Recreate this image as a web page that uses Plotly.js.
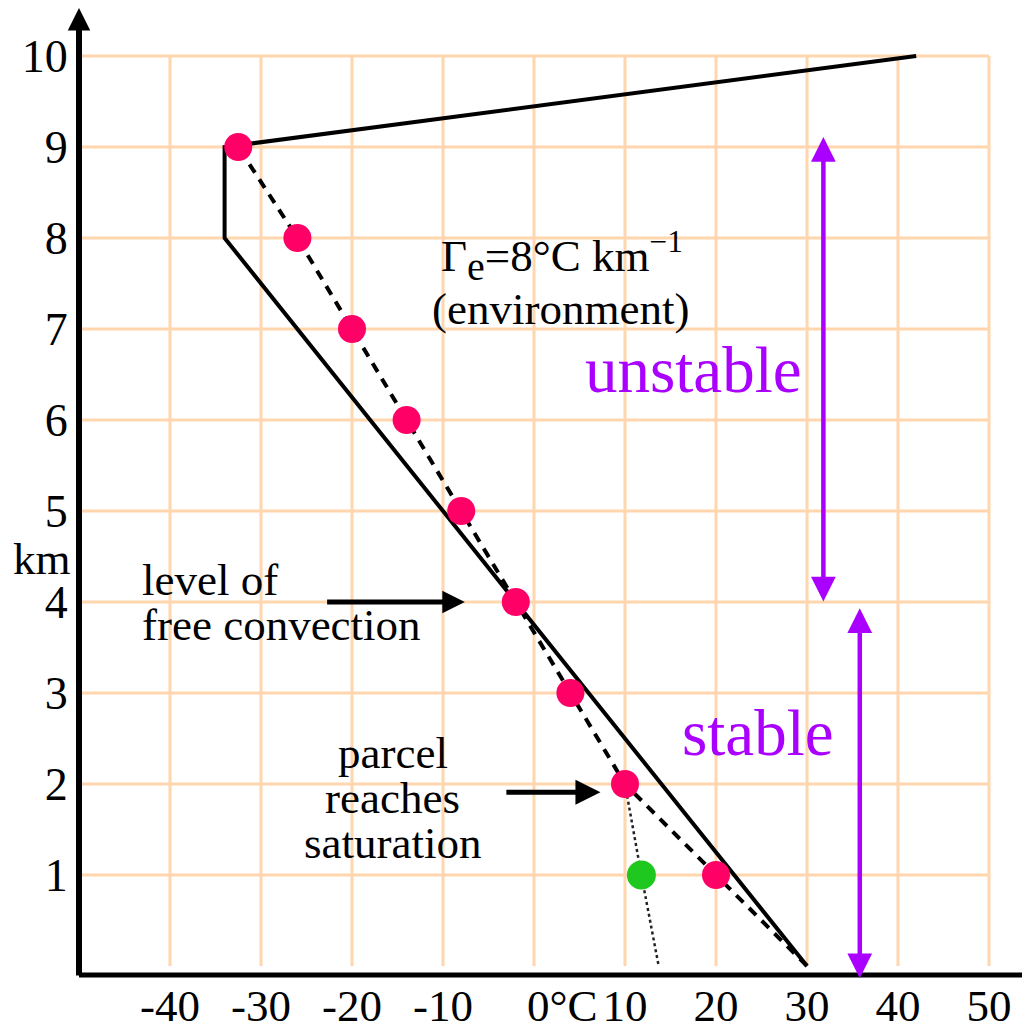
<!DOCTYPE html>
<html>
<head>
<meta charset="utf-8">
<script src="https://cdn.plot.ly/plotly-3.0.1.min.js"></script>
<style>html,body{margin:0;padding:0;background:#fff;}#chart{width:1022px;height:1023px;}</style>
</head>
<body>
<div id="chart"></div>
<script>
// ---- data ----
const heightsKm = [0, 1, 2, 3, 4, 5, 6, 7, 8, 9];
const parcelTemps = [30, 20, 10, 4, -2, -8, -14, -20, -26, -32.5];
const envHeights = [0, 8, 9, 10];
const envTemps = [30, -34, -34, 42];
const dewHeights = [2, 1, 0];
const dewTemps = [10, 11.8, 13.7];
const greenHeights = [1];
const greenTemps = [11.8];
const xTickVals = [-40, -30, -20, -10, 0, 10, 20, 30, 40, 50];
const xTickText = ['-40', '-30', '-20', '-10', '', '10', '20', '30', '40', '50'];
const zeroLabel = '0°C';
const yTickVals = [1, 2, 3, 4, 5, 6, 7, 8, 9, 10];
const yTickText = ['1', '2', '3', '4', '5', '6', '7', '8', '9', '10'];
const gridXs = [-40, -30, -20, -10, 0, 10, 20, 30, 40, 50];
const gridYs = [1, 2, 3, 4, 5, 6, 7, 8, 9, 10];
const gridXMin = -50, gridXMax = 50, gridYMin = 0, gridYMax = 10;

// ---- styles ----
const FONT = 'Liberation Serif, Times New Roman, serif';
const PURPLE = '#aa00ff';
const GRID = '#ffd6ad';

const dotTemps = parcelTemps.filter((t, i) => heightsKm[i] > 0);
const dotHeights = heightsKm.filter(h => h > 0);

const traces = [
  { x: envTemps, y: envHeights, mode: 'lines', line: { color: '#000', width: 4 }, hoverinfo: 'skip' },
  { x: parcelTemps, y: heightsKm, mode: 'lines', line: { color: '#000', width: 4, dash: '10px,8px' }, hoverinfo: 'skip' },
  { x: dewTemps, y: dewHeights, mode: 'lines', line: { color: '#222', width: 2.5, dash: 'dot' }, hoverinfo: 'skip' },
  { x: dotTemps, y: dotHeights, mode: 'markers', marker: { color: '#ff0066', size: 28 }, hoverinfo: 'skip' },
  { x: greenTemps, y: greenHeights, mode: 'markers', marker: { color: '#1ec81e', size: 29 }, hoverinfo: 'skip' }
];

const shapes = [];
gridXs.forEach(v => shapes.push({ type: 'line', layer: 'below', xref: 'x', yref: 'y', x0: v, x1: v, y0: gridYMin, y1: gridYMax, line: { color: GRID, width: 3 } }));
gridYs.forEach(v => shapes.push({ type: 'line', layer: 'below', xref: 'x', yref: 'y', x0: gridXMin, x1: gridXMax, y0: v, y1: v, line: { color: GRID, width: 3 } }));
// x axis line
shapes.push({ type: 'line', layer: 'above', xref: 'paper', yref: 'paper', x0: 0, x1: 1, y0: 0, y1: 0, line: { color: '#000', width: 5 } });

const txt = (s, x, y, size, color, opts) => Object.assign({
  text: s, x: x, y: y, xref: 'x', yref: 'y', showarrow: false,
  font: { family: FONT, size: size, color: color || '#000' }, xanchor: 'center', yanchor: 'middle'
}, opts || {});

const arrow = (x, y, ax, ay, color, width, size, both) => Object.assign({
  text: '', x: x, y: y, ax: ax, ay: ay, xref: 'x', yref: 'y', axref: 'x', ayref: 'y',
  showarrow: true, arrowcolor: color, arrowwidth: width, arrowhead: 2, arrowsize: size
}, both ? { arrowside: 'end+start', startarrowhead: 2, startarrowsize: size } : {});

const annotations = [
  // y axis with arrow
  arrow(-50, 10.527, -50, -0.12, '#000', 6, 0.75, false),
  arrow(-7.6, 4, -22.9, 4, '#000', 5, 0.9, false),
  arrow(7.3, 1.91, -3.2, 1.91, '#000', 5, 1.0, false),
  arrow(31.8, 9.11, 31.8, 3.99, PURPLE, 4.5, 1.1, true),
  arrow(35.8, 3.93, 35.8, -0.15, PURPLE, 4.5, 1.1, true),
  txt('Γ<sub><span style="font-size:40px">e</span></sub>=8°C km<sup>−1</sup>', 3.1, 7.8, 45),
  txt('(environment)', 2.9, 7.22, 45),
  txt('unstable', 17.5, 6.55, 65, PURPLE),
  txt('stable', 24.6, 2.56, 65, PURPLE),
  txt('level of', -43.3, 4.24, 45, '#000', { xanchor: 'left' }),
  txt('free convection', -43.3, 3.75, 45, '#000', { xanchor: 'left' }),
  txt('parcel', -15.5, 2.34, 45),
  txt('reaches', -15.5, 1.85, 45),
  txt('saturation', -15.5, 1.35, 45),
  txt('km', 0, 4.47, 45, '#000', { xref: 'paper', xanchor: 'right', xshift: -6 }),
  txt(zeroLabel, 0, 0, 45, '#000', { yref: 'paper', xanchor: 'left', yanchor: 'top', xshift: -9, yshift: -4 })
];

const layout = {
  width: 1022, height: 1023,
  margin: { l: 79, r: 0, t: 5, b: 48, pad: 0 },
  paper_bgcolor: '#fff', plot_bgcolor: '#fff',
  showlegend: false, hovermode: false,
  xaxis: {
    range: [-50, 53.626], showgrid: false, zeroline: false, showline: false,
    tickmode: 'array', tickvals: xTickVals, ticktext: xTickText, ticks: '',
    tickfont: { family: FONT, size: 45, color: '#000' }, fixedrange: true
  },
  yaxis: {
    range: [-9 / 91, 961 / 91], showgrid: false, zeroline: false, showline: false,
    tickmode: 'array', tickvals: yTickVals, ticktext: yTickText,
    ticks: 'outside', ticklen: 1, tickcolor: 'rgba(0,0,0,0)',
    tickfont: { family: FONT, size: 46, color: '#000' }, fixedrange: true
  },
  shapes: shapes,
  annotations: annotations
};

Plotly.newPlot('chart', traces, layout, { staticPlot: true, displayModeBar: false });
</script>
</body>
</html>
